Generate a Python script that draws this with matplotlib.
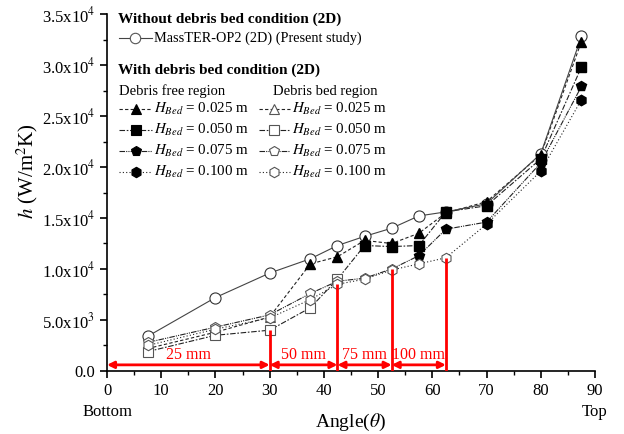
import numpy as np
import matplotlib
matplotlib.use("Agg")
import matplotlib.pyplot as plt
from matplotlib.ticker import MultipleLocator, FuncFormatter
from matplotlib.lines import Line2D

plt.rcParams['font.family'] = ['Liberation Serif', 'DejaVu Serif']
plt.rcParams['mathtext.fontset'] = 'stix'

# angle positions (deg) and heat transfer coefficient h (W/m2K)
angle = [7.5, 20, 30, 37.5, 42.5, 47.5, 52.5, 57.5, 62.5, 70, 80, 87.5]
h_masster = [3400, 7200, 9600, 11000, 12300, 13200, 14000, 15200, 15600, 16400, 21300, 32800]
h_bed_025 = [2200, 3800, 5300, 10500, 11200, 12800, 12500, 13500, 15500, 16600, 21200, 32300]
h_bed_050 = [1900, 3500, 4000, 6200, 9000, 12300, 12200, 12300, 15600, 16200, 20800, 29800]
h_bed_075 = [2800, 4300, 5500, 7600, 8800, 9100, 10000, 11300, 13900, 14600, 20400, 27900]
h_bed_100 = [2500, 4100, 5200, 7000, 8500, 9000, 9900, 10500, 11100, 14400, 19600, 26600]

bed_names = ['0.025', '0.050', '0.075', '0.100']
bed_edge = [30, 42.5, 52.5, 62.5]          # top of debris bed (angle)
bed_mm = ['25 mm', '50 mm', '75 mm', '100 mm']
red_top = [4000, 8500, 10000, 11100]

series = [h_bed_025, h_bed_050, h_bed_075, h_bed_100]
markers = ['^', 's', 'p', 'h']
styles = [(0, (3, 2)), (0, (5, 1.5, 1.5, 1.5)), (0, (5, 1, 1, 1, 1, 1)), (0, (1, 2))]

fig = plt.figure(figsize=(6.24, 4.34), dpi=100)
ax = fig.add_axes([0.1715, 0.1452, 0.782, 0.8225])

# present study (no debris bed)
ax.plot(angle, h_masster, color='#444444', lw=0.8, marker='o', ms=8,
        mfc='white', mec='#333333', mew=0.8, zorder=3)

x = np.array(angle)
for vals, m, ls, edge in zip(series, markers, styles, bed_edge):
    v = np.array(vals)
    ax.plot(x, v, color='#222222', lw=0.8, linestyle=ls, zorder=2)
    bed = x <= edge
    ax.plot(x[bed], v[bed], ls='none', marker=m, ms=7.5, mfc='white',
            mec='#555555', mew=0.8, zorder=4)
    ax.plot(x[~bed], v[~bed], ls='none', marker=m, ms=7.5, mfc='black',
            mec='black', zorder=4)

# debris bed height annotations
lefts = [0] + bed_edge[:-1]
for x0, x1, top, lab in zip(lefts, bed_edge, red_top, bed_mm):
    ax.plot([x1, x1], [0, top], color='red', lw=2, zorder=5, solid_capstyle='butt')
    ax.annotate('', xy=(x1, 600), xytext=(x0, 600),
                arrowprops=dict(arrowstyle='<|-|>', color='red', lw=2,
                                mutation_scale=10, shrinkA=0, shrinkB=0), zorder=5)
    ax.text((x0 + x1) / 2, 1600, lab, color='red', fontsize=11.5,
            ha='center', va='center')

ax.set_xlim(0, 90)
ax.set_ylim(0, 35000)
ax.xaxis.set_major_locator(MultipleLocator(10))
ax.xaxis.set_minor_locator(MultipleLocator(5))
ax.yaxis.set_major_locator(MultipleLocator(5000))
ax.yaxis.set_minor_locator(MultipleLocator(2500))


def sci(v, pos):
    if v <= 0:
        return '0.0'
    e = int(np.floor(np.log10(v)))
    return '%.1fx10$^{%d}$' % (v / 10 ** e, e)


ax.yaxis.set_major_formatter(FuncFormatter(sci))
for s in ['top', 'right']:
    ax.spines[s].set_visible(False)
for s in ['left', 'bottom']:
    ax.spines[s].set_linewidth(1.2)
ax.tick_params(which='major', direction='out', length=5, width=1.2, labelsize=12)
ax.tick_params(which='minor', direction='out', length=3, width=1.0)

ax.set_ylabel('$h$ (W/m$^2$K)', fontsize=15)
ax.yaxis.set_label_coords(-0.138, 0.56)
ax.set_xlabel(r'Angle($\theta$)', fontsize=14)
ax.xaxis.set_label_coords(0.5, -0.115)
ax.text(0, -0.115, 'Bottom', transform=ax.get_xaxis_transform(),
        ha='center', va='center', fontsize=12)
ax.text(90, -0.115, 'Top', transform=ax.get_xaxis_transform(),
        ha='center', va='center', fontsize=12)


# hand made legend (axes fraction)
def px(xp, yp):
    return (xp - 107) / 488.0, (371 - yp) / 357.0


def entry(x0, x1, xm, y, m, ls, filled, color='#222222'):
    a, b = px(x0, y)
    c, _ = px(x1, y)
    mx, _ = px(xm, y)
    ax.add_line(Line2D([a, c], [b, b], transform=ax.transAxes, color=color,
                       lw=0.8, linestyle=ls, clip_on=False))
    ax.add_line(Line2D([mx], [b], transform=ax.transAxes, ls='none', marker=m,
                       ms=7.5, mfc='black' if filled else 'white',
                       mec='black' if filled else '#555555', mew=0.8,
                       clip_on=False))


def txt(xp, yp, s, **kw):
    a, b = px(xp, yp)
    ax.text(a, b, s, transform=ax.transAxes, va='center', ha='left', **kw)


txt(118, 19, 'Without debris bed condition (2D)', fontsize=11, fontweight='bold')
entry(119, 152, 135, 38, 'o', '-', False, color='#444444')
txt(154, 38, 'MassTER-OP2 (2D) (Present study)', fontsize=10.3)
txt(118, 70, 'With debris bed condition (2D)', fontsize=11, fontweight='bold')
txt(119, 91, 'Debris free region', fontsize=10.5)
txt(273, 91, 'Debris bed region', fontsize=10.5)
rows = [109, 130, 151, 172]
for y, m, ls, name in zip(rows, markers, styles, bed_names):
    entry(119, 152, 136, y, m, ls, True)
    txt(154, y, r'$H_{Bed}$ = %s m' % name, fontsize=10.8)
    entry(259, 290, 274, y, m, ls, False)
    txt(292, y, r'$H_{Bed}$ = %s m' % name, fontsize=10.8)

fig.savefig('out.png', dpi=100)
